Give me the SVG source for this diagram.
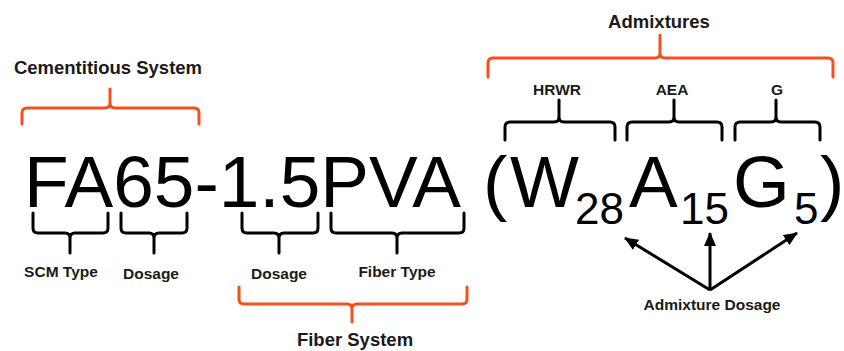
<svg xmlns="http://www.w3.org/2000/svg" width="844" height="351" viewBox="0 0 844 351">
<style>
.big{font-family:"Liberation Sans",Arial,sans-serif;font-size:73px;fill:#000}
.sub{font-family:"Liberation Sans",Arial,sans-serif;font-size:44px;fill:#000}
.lbl{font-family:"Liberation Sans",Arial,sans-serif;font-weight:bold;font-size:15.5px;fill:#1a1a1a;text-anchor:middle}
.hdr{font-family:"Liberation Sans",Arial,sans-serif;font-weight:bold;font-size:18.5px;fill:#1a1a1a;text-anchor:middle}
.bk{fill:none;stroke:#000;stroke-width:3;stroke-linecap:round;stroke-linejoin:round}
.rd{fill:none;stroke:#F4511E;stroke-width:3;stroke-linecap:round;stroke-linejoin:round}
.ar{fill:none;stroke:#000;stroke-width:3}
</style>
<defs>
<marker id="ah" markerUnits="userSpaceOnUse" markerWidth="14" markerHeight="12" refX="13" refY="6" orient="auto">
<path d="M0,0 L14,6 L0,12 Z" fill="#000"/>
</marker>
</defs>
<rect width="844" height="351" fill="#fff"/>
<g id="formula">
<text class="big" x="24" y="207">FA65-1.5PVA</text>
<text class="big" x="483" y="207">(</text>
<text class="big" x="510" y="207">W</text>
<text class="sub" x="575" y="224">28</text>
<text class="big" x="629" y="207">A</text>
<text class="sub" x="680" y="224">15</text>
<text class="big" x="733" y="207">G</text>
<text class="sub" x="794" y="224">5</text>
<text class="big" x="820" y="207">)</text>
</g>
<g id="cementitious-system"><text class="hdr" x="108" y="74">Cementitious System</text></g>
<g id="admixtures"><text class="hdr" x="659" y="28">Admixtures</text></g>
<g id="hrwr"><text class="lbl" x="557" y="95">HRWR</text></g>
<g id="aea"><text class="lbl" x="672" y="95">AEA</text></g>
<g id="g"><text class="lbl" x="777" y="95">G</text></g>
<g id="scm-type"><text class="lbl" x="61" y="277">SCM Type</text></g>
<g id="dosage-scm"><text class="lbl" x="151" y="279">Dosage</text></g>
<g id="dosage-fiber"><text class="lbl" x="279" y="279">Dosage</text></g>
<g id="fiber-type"><text class="lbl" x="397" y="277">Fiber Type</text></g>
<g id="fiber-system"><text class="hdr" x="355" y="346">Fiber System</text></g>
<g id="admixture-dosage"><text class="lbl" x="712" y="310">Admixture Dosage</text></g>
<g id="connectors">
<path class="rd" d="M22,124 V113 Q22,108 27,108 H105 Q110,108 110,103 V89 M110,103 Q110,108 115,108 H194 Q199,108 199,113 V124"/>
<path class="rd" d="M488,77 V63 Q488,58 493,58 H655 Q660,58 660,53 V35 M660,53 Q660,58 665,58 H828 Q833,58 833,63 V77"/>
<path class="bk" d="M505,140 V127 Q505,122 510,122 H554 Q559,122 559,117 V100 M559,117 Q559,122 564,122 H610 Q615,122 615,127 V140"/>
<path class="bk" d="M627,140 V127 Q627,122 632,122 H669 Q674,122 674,117 V100 M674,117 Q674,122 679,122 H717 Q722,122 722,127 V140"/>
<path class="bk" d="M735,140 V127 Q735,122 740,122 H771 Q776,122 776,117 V100 M776,117 Q776,122 781,122 H815 Q820,122 820,127 V140"/>
<path class="bk" d="M33,213 V228 Q33,233 38,233 H65 Q70,233 70,238 V253 M70,238 Q70,233 75,233 H103 Q108,233 108,228 V213"/>
<path class="bk" d="M121,213 V228 Q121,233 126,233 H149 Q154,233 154,238 V253 M154,238 Q154,233 159,233 H182 Q187,233 187,228 V213"/>
<path class="bk" d="M242,213 V228 Q242,233 247,233 H274 Q279,233 279,238 V253 M279,238 Q279,233 284,233 H313 Q318,233 318,228 V213"/>
<path class="bk" d="M331,213 V228 Q331,233 336,233 H392 Q397,233 397,238 V253 M397,238 Q397,233 402,233 H459 Q464,233 464,228 V213"/>
<path class="rd" d="M239,287 V299 Q239,304 244,304 H347 Q352,304 352,309 V322 M352,309 Q352,304 357,304 H462 Q467,304 467,299 V287"/>
<line class="ar" x1="710" y1="290" x2="625" y2="238" marker-end="url(#ah)"/>
<line class="ar" x1="710" y1="290" x2="710" y2="233" marker-end="url(#ah)"/>
<line class="ar" x1="710" y1="290" x2="797" y2="233" marker-end="url(#ah)"/>
</g>
</svg>
